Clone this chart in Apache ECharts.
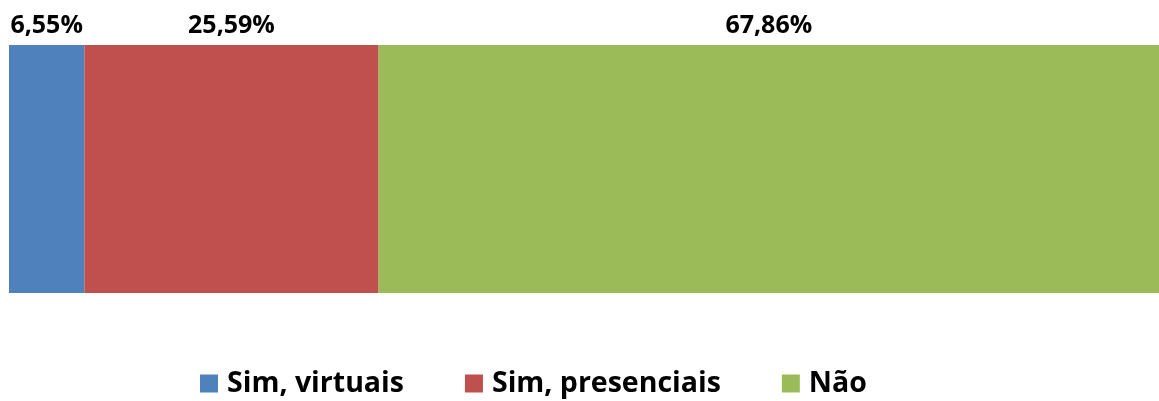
<!DOCTYPE html>
<html>
<head>
<meta charset="utf-8">
<script src="https://cdn.jsdelivr.net/npm/echarts@6/dist/echarts.min.js"></script>
<style>
  html, body { margin: 0; padding: 0; background: #fff; }
  #chart { width: 1159px; height: 401px; }
</style>
</head>
<body>
<div id="chart"></div>
<script>
  const categories = ['Total'];
  const seriesNames = ['Sim, virtuais', 'Sim, presenciais', 'Não'];
  const seriesValues = [6.55, 25.59, 67.86];
  const colors = ['#4F81BD', '#C0504D', '#9BBB59'];

  const chart = echarts.init(document.getElementById('chart'), null, { renderer: 'canvas' });

  const series = seriesNames.map((name, i) => ({
    name: name,
    type: 'bar',
    stack: 'total',
    barWidth: '100%',
    data: [seriesValues[i]],
    itemStyle: { color: colors[i] },
    label: {
      show: true,
      position: 'top',
      distance: 7,
      color: '#000',
      fontFamily: 'Open Sans',
      fontWeight: 'bold',
      fontSize: 25,
      formatter: p => p.value.toFixed(2).replace('.', ',') + '%'
    }
  }));

  chart.setOption({
    animation: false,
    grid: { left: 9, right: 0, top: 45, bottom: 108 },
    xAxis: { type: 'value', min: 0, max: 100, show: false },
    yAxis: { type: 'category', data: categories, show: false },
    legend: {
      top: 364,
      left: 195,
      itemWidth: 18,
      itemHeight: 18,
      itemGap: 61,
      icon: 'rect',
      textStyle: { fontFamily: 'Open Sans', fontWeight: 'bold', fontSize: 28.5, color: '#000', padding: [0, 0, 0, 4] },
      data: seriesNames
    },
    series: series
  });

  window.addEventListener('resize', () => chart.resize());
</script>
</body>
</html>
